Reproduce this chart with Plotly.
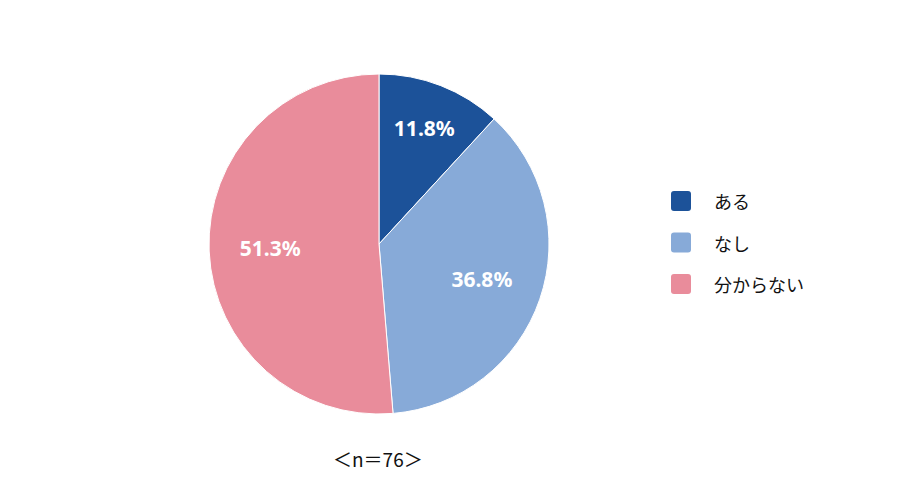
import plotly.graph_objects as go

labels = ["ある", "なし", "分からない"]
counts = [9, 28, 39]
colors = ["#1c5299", "#87aad8", "#e98c9b"]
n_label = "＜n＝76＞"

jp_font = "Noto Sans CJK JP"
num_font = "Noto Sans"
W, H = 900, 503
OFF = 8  # body margin of the page


def px(x):
    return (x - OFF) / W


def py(y):
    return 1 - (y - OFF) / H


pie_dom = dict(x=[px(209), px(549)], y=[py(414), py(74)])

fig = go.Figure()
# the coloured pie, no text
fig.add_trace(go.Pie(
    labels=labels,
    values=counts,
    sort=False,
    direction="clockwise",
    marker=dict(colors=colors, line=dict(color="white", width=1)),
    textinfo="none",
    domain=pie_dom,
    showlegend=False,
    hoverinfo="label+percent",
))
# transparent donut on top, only used to place the percentages further out
fig.add_trace(go.Pie(
    labels=labels,
    values=counts,
    sort=False,
    direction="clockwise",
    hole=0.28,
    marker=dict(colors=["rgba(0,0,0,0)"] * 3, line=dict(width=0)),
    texttemplate="%{percent:.1%}",
    textposition="inside",
    insidetextorientation="horizontal",
    textfont=dict(family=num_font, size=21, color="white", weight="bold"),
    domain=pie_dom,
    showlegend=False,
    hoverinfo="skip",
))

# hand made legend (rounded squares + labels)
x0 = 671
y_first = 201
gap = 41.5
for i, (lab, col) in enumerate(zip(labels, colors)):
    cy = y_first + i * gap
    xa, xb = px(x0), px(x0 + 20)
    ya, yb = py(cy + 10), py(cy - 10)
    r = 3 / W
    rv = 3 / H
    path = (f"M {xa + r},{ya} L {xb - r},{ya} Q {xb},{ya} {xb},{ya + rv} "
            f"L {xb},{yb - rv} Q {xb},{yb} {xb - r},{yb} L {xa + r},{yb} "
            f"Q {xa},{yb} {xa},{yb - rv} L {xa},{ya + rv} Q {xa},{ya} {xa + r},{ya} Z")
    fig.add_shape(type="path", path=path, xref="paper", yref="paper",
                  fillcolor=col, line=dict(width=0))
    fig.add_annotation(x=px(712), y=py(cy), xref="paper", yref="paper",
                       text=lab, showarrow=False, xanchor="left", yanchor="middle",
                       font=dict(family=jp_font, size=18, color="#111111"))

fig.add_annotation(x=px(378), y=py(458), xref="paper", yref="paper",
                   text=n_label, showarrow=False, xanchor="center", yanchor="middle",
                   font=dict(family=jp_font, size=19, color="#111111"))

fig.update_layout(
    width=W, height=H,
    margin=dict(l=0, r=0, t=0, b=0),
    paper_bgcolor="white",
    plot_bgcolor="white",
    font=dict(family=jp_font),
)

fig.write_html("out.html")
